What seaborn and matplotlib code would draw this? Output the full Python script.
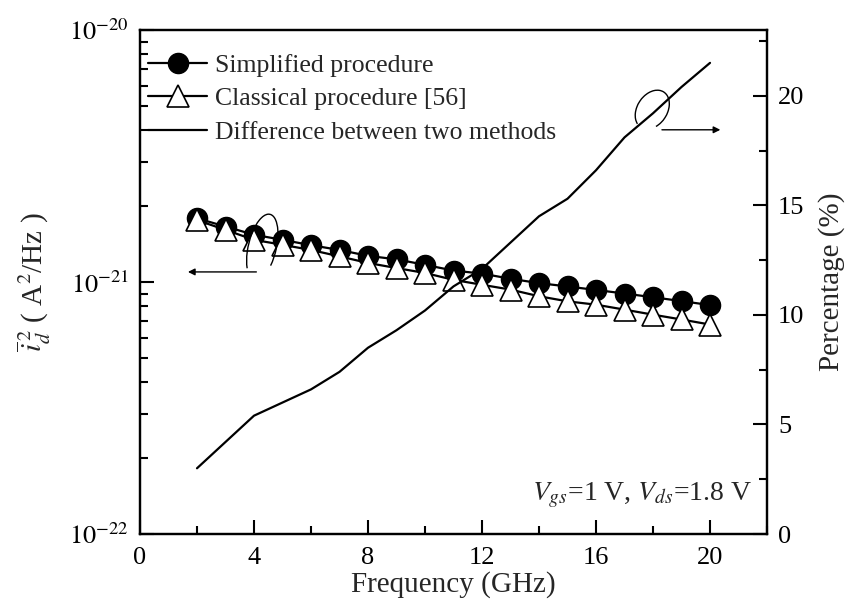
import numpy as np
import pandas as pd
import matplotlib
matplotlib.use("Agg")
import matplotlib.pyplot as plt
import seaborn as sns
from matplotlib.patches import Arc
from matplotlib.ticker import MultipleLocator, LogLocator, FixedLocator, FuncFormatter, NullFormatter

# ---- data ----
freq = [2, 3, 4, 5, 6, 7, 8, 9, 10, 11, 12, 13, 14, 15, 16, 17, 18, 19, 20]
simplified = [1.79e-21, 1.66e-21, 1.54e-21, 1.47e-21, 1.40e-21, 1.34e-21, 1.27e-21,
              1.23e-21, 1.17e-21, 1.11e-21, 1.08e-21, 1.03e-21, 0.99e-21, 0.96e-21,
              0.93e-21, 0.90e-21, 0.87e-21, 0.84e-21, 0.81e-21]
classical = [1.76e-21, 1.61e-21, 1.47e-21, 1.405e-21, 1.34e-21, 1.264e-21, 1.19e-21,
             1.136e-21, 1.086e-21, 1.02e-21, 0.975e-21, 0.933e-21, 0.878e-21, 0.838e-21,
             0.813e-21, 0.777e-21, 0.742e-21, 0.710e-21, 0.678e-21]
difference = [3.0, 4.2, 5.4, 6.0, 6.6, 7.4, 8.5, 9.3, 10.2, 11.3, 12.1, 13.3, 14.5,
              15.3, 16.6, 18.1, 19.2, 20.4, 21.5]

labels = ["Simplified procedure", "Classical procedure [56]", "Difference between two methods"]
x_ticks = [0, 4, 8, 12, 16, 20]
left_ticks = [1e-22, 1e-21, 1e-20]
right_ticks = [0, 5, 10, 15, 20]

sns.set_style("ticks")
plt.rcParams["font.family"] = ["Liberation Serif", "DejaVu Serif"]
plt.rcParams["mathtext.fontset"] = "stix"

TICK_FS = 19
LABEL_FS = 21
LEG_FS = 18.5

fig = plt.figure(figsize=(8.48, 6.11), dpi=100)
ax = fig.add_axes([0.1651, 0.126, 0.7394, 0.8249])

df = pd.DataFrame({"f": freq, "s": simplified, "c": classical, "d": difference})

sns.lineplot(data=df, x="f", y="s", ax=ax, color="black", lw=1.6, marker="o",
             markersize=14.5, markeredgecolor="black", markeredgewidth=1.0,
             label=labels[0], zorder=3)
sns.lineplot(data=df, x="f", y="c", ax=ax, color="black", lw=1.6, marker="^",
             markersize=15.5, markerfacecolor="white", markeredgecolor="black",
             markeredgewidth=1.2, label=labels[1], zorder=4)

ax.set_yscale("log")
ax.set_ylim(1e-22, 1e-20)
ax.set_xlim(0, 22)
ax.set_xticks(x_ticks)
ax.xaxis.set_minor_locator(MultipleLocator(2))
ax.yaxis.set_major_locator(FixedLocator(left_ticks))
ax.yaxis.set_minor_locator(LogLocator(base=10, subs=np.arange(2, 10)))
ax.yaxis.set_minor_formatter(NullFormatter())
ax.yaxis.set_major_formatter(FuncFormatter(lambda v, p: r"$10^{%d}$" % int(round(np.log10(v)))))

ax2 = ax.twinx()
sns.lineplot(data=df, x="f", y="d", ax=ax2, color="black", lw=1.6, label=labels[2])
ax2.set_ylim(0, 23)
ax2.set_yticks(right_ticks)
ax2.yaxis.set_minor_locator(MultipleLocator(2.5))

for a in (ax, ax2):
    for s in a.spines.values():
        s.set_linewidth(1.6)
        s.set_color("black")
    a.tick_params(which="both", direction="in", width=1.5, colors="black",
                  labelsize=TICK_FS, top=False)
    a.tick_params(which="major", length=10, pad=8)
    a.tick_params(which="minor", length=6)
ax.tick_params(axis="x", which="major", pad=9)
ax.tick_params(axis="y", which="both", right=False, labelright=False)
ax2.tick_params(axis="y", which="both", left=False, right=True, labelleft=False)

ax.set_xlabel("Frequency (GHz)", fontsize=LABEL_FS, labelpad=2)
ax.set_ylabel(r"$\overline{i}_{d}^{\,2}$ ( A$^2$/Hz )", fontsize=LABEL_FS, labelpad=12)
ax2.set_ylabel("Percentage (%)", fontsize=LABEL_FS, labelpad=10)

# legend
h1, l1 = ax.get_legend_handles_labels()
h2, l2 = ax2.get_legend_handles_labels()
if ax.get_legend():
    ax.get_legend().remove()
if ax2.get_legend():
    ax2.get_legend().remove()
leg = ax2.legend(h1 + h2, l1 + l2, loc="upper left", bbox_to_anchor=(0.0128, 0.952),
                 frameon=False, fontsize=LEG_FS, handlelength=2.3, handletextpad=0.3,
                 labelspacing=0.4, borderaxespad=0.0, borderpad=0.0)

# annotation text
ax2.text(0.976, 0.067, r"$V_{gs}$=1 V, $V_{ds}$=1.8 V", transform=ax2.transAxes,
         ha="right", va="baseline", fontsize=20)

# loop + arrow marking the left axis curves
ax2.add_patch(Arc((0.195, 0.569), 0.045, 0.133, angle=-10, theta1=300, theta2=250,
                  transform=ax2.transAxes, color="black", lw=1.0))
ax2.annotate("", xy=(0.072, 0.520), xytext=(0.19, 0.520), xycoords="axes fraction",
             arrowprops=dict(arrowstyle="-|>", color="black", lw=1.0, mutation_scale=10))
# loop + arrow marking the right axis curve
ax2.add_patch(Arc((0.817, 0.842), 0.05, 0.08, angle=-20, theta1=300, theta2=250,
                  transform=ax2.transAxes, color="black", lw=1.0))
ax2.annotate("", xy=(0.93, 0.802), xytext=(0.828, 0.802), xycoords="axes fraction",
             arrowprops=dict(arrowstyle="-|>", color="black", lw=1.0, mutation_scale=10))

fig.savefig("out.png", dpi=100)
